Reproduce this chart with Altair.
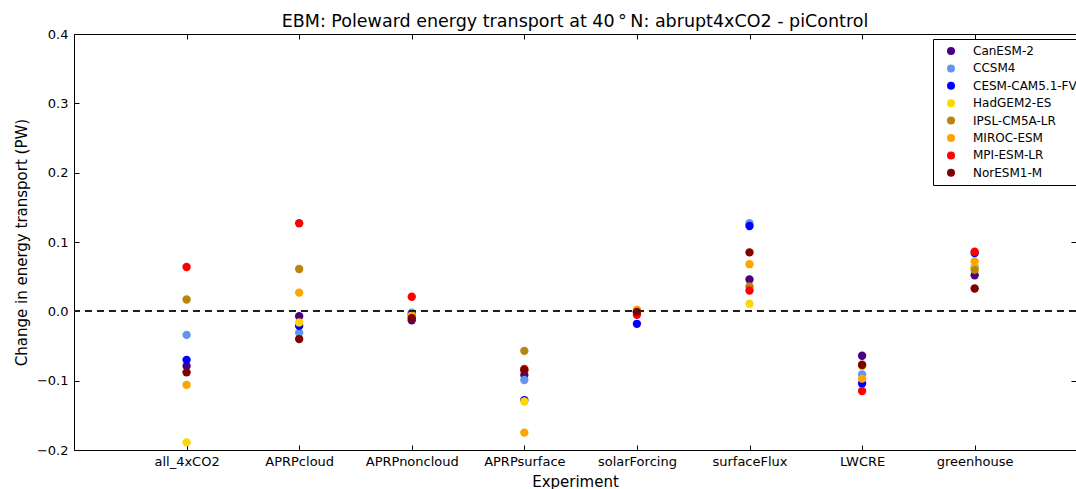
import altair as alt
import pandas as pd

experiments = ["all_4xCO2", "APRPcloud", "APRPnoncloud", "APRPsurface",
               "solarForcing", "surfaceFlux", "LWCRE", "greenhouse"]
models = ["CanESM-2", "CCSM4", "CESM-CAM5.1-FV", "HadGEM2-ES",
          "IPSL-CM5A-LR", "MIROC-ESM", "MPI-ESM-LR", "NorESM1-M"]
colors = ["#4B0082", "#6495ED", "#0000FF", "#FFD700",
          "#B8860B", "#FFA500", "#FF0000", "#800000"]

# Change in poleward energy transport at 40N (PW), per model, in experiment order
canesm = [-0.079, -0.007, -0.013, -0.092, 0.000, 0.046, -0.064, 0.052]
ccsm4 = [-0.034, -0.031, -0.002, -0.099, -0.001, 0.127, -0.091, 0.064]
cesm = [-0.070, -0.021, -0.004, -0.128, -0.018, 0.123, -0.104, 0.084]
hadgem = [-0.189, -0.016, -0.006, -0.130, 0.001, 0.011, -0.079, 0.062]
ipsl = [0.017, 0.061, -0.008, -0.057, 0.002, 0.036, -0.078, 0.060]
miroc = [-0.106, 0.027, -0.007, -0.175, 0.002, 0.068, -0.097, 0.072]
mpi = [0.064, 0.127, 0.021, -0.083, -0.005, 0.030, -0.115, 0.086]
noresm = [-0.088, -0.040, -0.010, -0.085, -0.001, 0.085, -0.077, 0.033]

y_ticks = [-0.2, -0.1, 0.0, 0.1, 0.2, 0.3, 0.4]

series = [canesm, ccsm4, cesm, hadgem, ipsl, miroc, mpi, noresm]
rows = []
for name, vals in zip(models, series):
    for i, (exp, v) in enumerate(zip(experiments, vals)):
        rows.append({"model": name, "experiment": exp, "pos": i + 1, "transport": v})
df = pd.DataFrame(rows)

x_positions = list(range(1, len(experiments) + 1))
label_expr = "[" + ",".join(["''"] + [f"'{e}'" for e in experiments]) + "][datum.value]"

FONT = "DejaVu Sans"
x_scale = alt.Scale(domain=[0, 8.9], nice=False, zero=False)
y_scale = alt.Scale(domain=[-0.2, 0.4], nice=False, zero=False)

points = alt.Chart(df).mark_circle(size=70, opacity=1).encode(
    x=alt.X("pos:Q", scale=x_scale,
            axis=alt.Axis(orient="bottom", values=x_positions, labelExpr=label_expr,
                          title="Experiment", offset=-5, tickSize=5, labelPadding=5,
                          titlePadding=6, domain=False, grid=False,
                          labelFontSize=13, titleFontSize=15, titleFontWeight="normal",
                          labelColor="black", titleColor="black", tickColor="black")),
    y=alt.Y("transport:Q", scale=y_scale,
            axis=alt.Axis(orient="left", values=y_ticks, format=".1f",
                          title="Change in energy transport (PW)", offset=-5, tickSize=5,
                          labelPadding=6, titlePadding=7, domain=False, grid=False,
                          labelFontSize=13, titleFontSize=15, titleFontWeight="normal",
                          labelColor="black", titleColor="black", tickColor="black")),
    color=alt.Color("model:N", scale=alt.Scale(domain=models, range=colors),
                    legend=alt.Legend(title=None, orient="none", legendX=859, legendY=5,
                                      padding=6, rowPadding=5.4, symbolSize=64,
                                      symbolType="circle", symbolOffset=6, labelOffset=16,
                                      labelFontSize=12, labelColor="black",
                                      strokeColor="black", fillColor="white",
                                      cornerRadius=0, labelLimit=200)),
)

zero_line = alt.Chart(df).mark_rule(color="#222222", strokeDash=[7, 5], strokeWidth=1).encode(
    y=alt.datum(0, scale=y_scale, axis=None)
)

# mirrored inward ticks on the top and right edges
mirror = alt.Chart(df).mark_circle(opacity=0).encode(
    x=alt.X("pos:Q", scale=x_scale,
            axis=alt.Axis(orient="top", values=x_positions, labels=False, title=None,
                          offset=-5, tickSize=5, domain=False, grid=False, tickColor="black")),
    y=alt.Y("transport:Q", scale=y_scale,
            axis=alt.Axis(orient="right", values=y_ticks, labels=False, title=None,
                          offset=-5, tickSize=5, domain=False, grid=False, tickColor="black")),
)

chart = alt.layer(points, zero_line, mirror).resolve_axis(
    x="independent", y="independent"
).properties(
    width=1002, height=416,
    title=alt.TitleParams("EBM: Poleward energy transport at 40\u2009°\u2009N: abrupt4xCO2 - piControl",
                          fontSize=17.5, font=FONT, fontWeight="normal", color="black",
                          anchor="middle", offset=-2),
    autosize=alt.AutoSizeParams(type="none"),
    padding={"left": 74, "top": 34, "right": 0, "bottom": 39},
).configure(font=FONT).configure_view(stroke="black", strokeWidth=1)

chart.save("out.html", embed_options={"renderer": "svg", "actions": False})
